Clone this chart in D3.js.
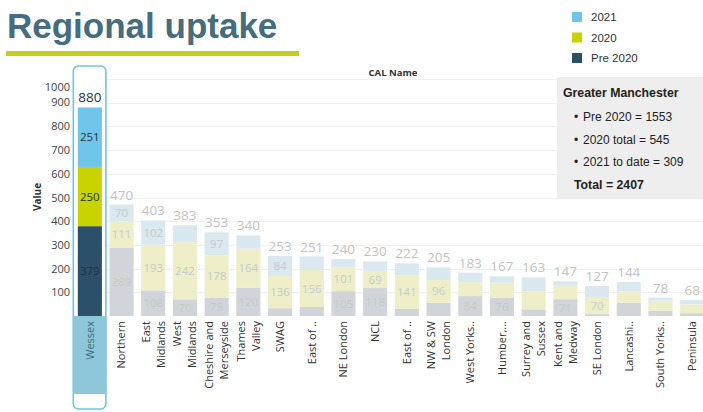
<!DOCTYPE html>
<html><head><meta charset="utf-8">
<script src="https://cdn.jsdelivr.net/npm/d3@7"></script>
<style>body{margin:0;background:#fff;overflow:hidden}svg{display:block}</style>
</head><body><svg id="c" width="703" height="412"></svg>
<script>
const categories = [["Wessex"],["Northern"],["East","Midlands"],["West","Midlands"],["Cheshire and","Merseyside"],["Thames","Valley"],["SWAG"],["East of .."],["NE London"],["NCL"],["East of .."],["NW & SW","London"],["West Yorks.."],["Humber,..."],["Surrey and","Sussex"],["Kent and","Medway"],["SE London"],["Lancashi.."],["South Yorks.."],["Peninsula"]];
const pre2020 = [379,289,108,70,78,120,33,38,105,118,30,56,84,76,28,71,8,56,22,12];
const y2020   = [250,111,193,242,178,164,136,156,101,69,141,96,59,65,75,56,70,47,43,37];
const y2021   = [251,70,102,71,97,56,84,57,34,43,51,53,40,26,60,20,49,41,13,19];
const showPre  = [1,1,1,1,1,1,0,0,1,1,0,0,1,1,0,1,0,0,0,0];
const show2020 = [1,1,1,1,1,1,1,1,1,1,1,1,0,0,0,0,1,0,0,0];
const show2021 = [1,1,1,0,1,0,1,0,0,0,0,0,0,0,0,0,0,0,0,0];
const yTicks = [100,200,300,400,500,600,700,800,900,1000];
const seriesNames = ["2021","2020","Pre 2020"];
const highlighted = 0;
const tooltipTitle = "Greater Manchester";
const tooltipLines = ["Pre 2020 = 1553","2020 total = 545","2021 to date = 309"];
const tooltipTotal = "Total = 2407";

const colors = {"2021":"#6fc6ea","2020":"#c8d300","Pre 2020":"#2c5069"};
const faded  = {"2021":"#dae8f0","2020":"#eeefc9","Pre 2020":"#d1d5d9"};

const svg = d3.select("#c");
const idx = d3.range(categories.length);
const x = d3.scaleBand().domain(idx).range([74,708]).paddingInner(0.24).paddingOuter(0.12);
const y = d3.scaleLinear().domain([0,1000]).range([316,79]);

// title
svg.append("text").attr("x",7).attr("y",38).text("Regional uptake")
  .attr("font-family","Liberation Sans, Arial, sans-serif").attr("font-weight","bold")
  .attr("font-size",35).attr("fill","#466c80");
svg.append("rect").attr("x",6).attr("y",51).attr("width",293).attr("height",5).attr("fill","#c3cf1c");

// legend
seriesNames.forEach((s,i)=>{
  const ly = 12 + i*20.5;
  svg.append("rect").attr("x",572).attr("y",ly).attr("width",10).attr("height",10).attr("fill",colors[s]);
  svg.append("text").attr("x",591).attr("y",ly+5).attr("dy","0.35em").text(s)
    .attr("font-family","Liberation Sans, Arial, sans-serif").attr("font-size",11.5).attr("fill","#333");
});

// gridlines
svg.append("g").selectAll("line").data(yTicks).join("line")
  .attr("x1",74).attr("x2",703).attr("y1",d=>Math.round(y(d))+0.5).attr("y2",d=>Math.round(y(d))+0.5)
  .attr("stroke","#f0f0f0");

// highlight outline + header band
const hx = x(highlighted);
svg.append("rect").attr("x",hx-4.5).attr("y",66).attr("width",x.bandwidth()+8.5).attr("height",343)
  .attr("rx",5).attr("fill","#fff").attr("stroke","#72c3e6").attr("stroke-width",1.6);
svg.append("rect").attr("x",hx-3.7).attr("y",316).attr("width",x.bandwidth()+6.9).attr("height",78)
  .attr("fill","#8ec7da");

// y axis
const yAxis = d3.axisLeft(y).tickValues(yTicks).tickFormat(d3.format("d")).tickSize(0).tickPadding(0);
const ga = svg.append("g").attr("transform","translate(70,0)").call(yAxis);
ga.select(".domain").remove();
ga.selectAll("text").attr("font-family","Open Sans, sans-serif").attr("font-size",11).attr("fill","#444")
  .attr("transform",d=>d===1000?"translate(0,8)":d===900?"translate(0,-1)":null);
svg.append("text").attr("transform","translate(37,197) rotate(-90)").attr("text-anchor","middle")
  .attr("dy","0.35em").text("Value").attr("font-family","Open Sans, sans-serif")
  .attr("font-weight","bold").attr("font-size",10).attr("fill","#333");
svg.append("text").attr("x",393).attr("y",73).attr("dy","0.35em").attr("text-anchor","middle")
  .text("CAL Name").attr("font-family","Open Sans, sans-serif").attr("font-weight","bold")
  .attr("font-size",9.5).attr("fill","#333");

// stacked bars
const rows = idx.map(i=>({i, "Pre 2020":pre2020[i], "2020":y2020[i], "2021":y2021[i]}));
const stack = d3.stack().keys(["Pre 2020","2020","2021"])(rows);
const showMap = {"Pre 2020":showPre,"2020":show2020,"2021":show2021};
stack.forEach(layer=>{
  const key = layer.key;
  const g = svg.append("g");
  g.selectAll("rect").data(layer).join("rect")
    .attr("x",d=>x(d.data.i)).attr("width",x.bandwidth())
    .attr("y",d=>y(d[1])).attr("height",d=>y(d[0])-y(d[1]))
    .attr("fill",d=>d.data.i===highlighted?colors[key]:faded[key]);
  g.selectAll("text").data(layer.filter(d=>showMap[key][d.data.i])).join("text")
    .attr("x",d=>x(d.data.i)+x.bandwidth()/2).attr("y",d=>(y(d[0])+y(d[1]))/2)
    .attr("dy","0.35em").attr("text-anchor","middle").text(d=>d.data[key])
    .attr("font-family","Open Sans, sans-serif").attr("font-size",11.5)
    .attr("fill",d=>d.data.i===highlighted?"#1c3444":"#c5c9ca");
});
// totals
svg.append("g").selectAll("text").data(rows).join("text")
  .attr("x",d=>x(d.i)+x.bandwidth()/2).attr("y",d=>y(d["Pre 2020"]+d["2020"]+d["2021"])-5)
  .attr("text-anchor","middle").text(d=>d["Pre 2020"]+d["2020"]+d["2021"])
  .attr("font-family","Open Sans, sans-serif").attr("font-size",13.5)
  .attr("fill",d=>d.i===highlighted?"#333":"#c3c3c3");

// x labels
const xl = svg.append("g");
idx.forEach(i=>{
  const lines = categories[i];
  const cx = x(i)+x.bandwidth()/2;
  lines.forEach((t,k)=>{
    const off = (k-(lines.length-1)/2)*15;
    xl.append("text").attr("transform",`translate(${cx+off},321) rotate(-90)`)
      .attr("text-anchor","end").attr("dy","0.35em").text(t)
      .attr("font-family","Open Sans, sans-serif").attr("font-size",11)
      .attr("fill",i===highlighted?"#3d6a7e":"#333");
  });
});

// tooltip box
svg.append("rect").attr("x",557).attr("y",77).attr("width",150).attr("height",122).attr("fill","#eeeeee");
const tf = "Liberation Sans, Arial, sans-serif";
svg.append("text").attr("x",563).attr("y",93).attr("dy","0.35em").text(tooltipTitle)
  .attr("font-family",tf).attr("font-weight","bold").attr("font-size",12.3).attr("fill","#222");
tooltipLines.forEach((t,k)=>{
  const ty = 117 + k*22.5;
  svg.append("text").attr("x",574).attr("y",ty).attr("dy","0.35em").text("•")
    .attr("font-family",tf).attr("font-size",12).attr("fill","#222");
  svg.append("text").attr("x",583).attr("y",ty).attr("dy","0.35em").text(t)
    .attr("font-family",tf).attr("font-size",12).attr("fill","#222");
});
svg.append("text").attr("x",574).attr("y",185).attr("dy","0.35em").text(tooltipTotal)
  .attr("font-family",tf).attr("font-weight","bold").attr("font-size",12.3).attr("fill","#222");
</script></body></html>
